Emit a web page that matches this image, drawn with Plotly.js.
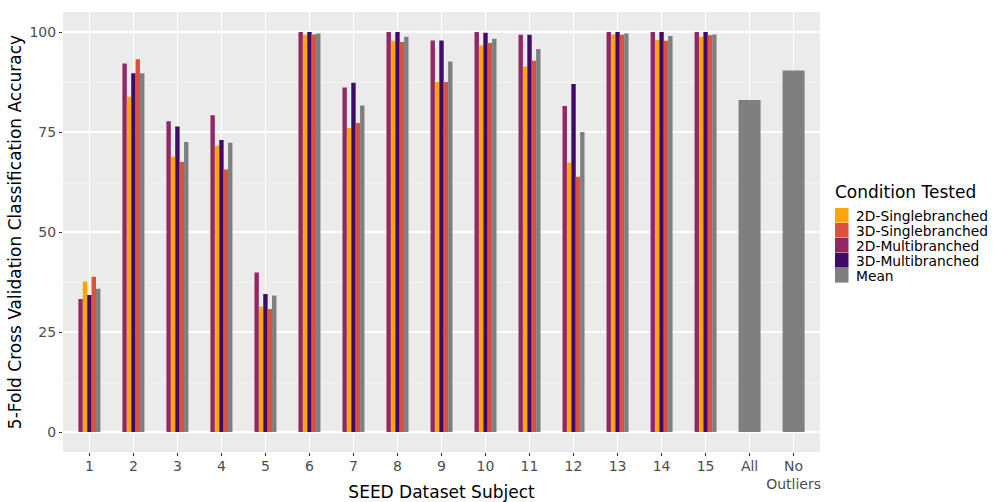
<!DOCTYPE html>
<html>
<head>
<meta charset="utf-8">
<script src="https://cdn.plot.ly/plotly-3.0.1.min.js"></script>
<style>html,body{margin:0;padding:0;background:#fff;}#chart{width:995px;height:502px;}</style>
</head>
<body>
<div id="chart"></div>
<script>
const subjects = ["1","2","3","4","5","6","7","8","9","10","11","12","13","14","15"];
const allCats = subjects.concat(["All","No<br>Outliers"]);
const multi2D  = [33.25, 92.15, 77.7, 79.2, 39.9, 100, 86.15, 100, 97.9, 100, 99.3, 81.5, 100, 100, 100];
const single2D = [37.65, 83.8, 68.8, 71.6, 31.3, 99.3, 76.0, 97.8, 87.5, 96.6, 91.4, 67.3, 99.4, 98.0, 98.8];
const multi3D  = [34.25, 89.7, 76.4, 73.0, 34.5, 100, 87.3, 100, 97.9, 99.8, 99.3, 87.0, 100, 100, 100];
const single3D = [38.8, 93.2, 67.5, 65.65, 30.75, 99.4, 77.25, 97.5, 87.5, 97.25, 92.8, 63.8, 99.3, 97.8, 99.2];
const meanVals = [35.8, 89.7, 72.5, 72.3, 34.1, 99.6, 81.6, 98.8, 92.65, 98.3, 95.75, 75.0, 99.6, 99.0, 99.4, 83.0, 90.4];
const legendNames = ["2D-Singlebranched","3D-Singlebranched","2D-Multibranched","3D-Multibranched","Mean"];

const colors = {s2:"#FCA50A", s3:"#DD513A", m2:"#932667", m3:"#420A68", mean:"#7F7F7F"};
const legendColors = [colors.s2, colors.s3, colors.m2, colors.m3, colors.mean];
const bw = 0.1;
function tr(name, x, y, color, slot){
  return {type:"bar", name:name, x:x, y:y, width:bw, offset:-0.25+slot*bw,
    marker:{color:color, line:{width:0}}};
}
const meanW = allCats.map((c,i)=> i<15 ? bw : 0.5);
const meanO = allCats.map((c,i)=> i<15 ? -0.25+4*bw : -0.25);
const data = [
  tr("2D-Multibranched", subjects, multi2D, colors.m2, 0),
  tr("2D-Singlebranched", subjects, single2D, colors.s2, 1),
  tr("3D-Multibranched", subjects, multi3D, colors.m3, 2),
  tr("3D-Singlebranched", subjects, single3D, colors.s3, 3),
  {type:"bar", name:"Mean", x:allCats, y:meanVals, width:meanW, offset:meanO,
    marker:{color:colors.mean, line:{width:0}}}
];

// custom legend placed in paper coordinates (plot area: x 63..820, y 12..452)
const L=63, R=820, T=12, B=452;
const px = v => (v-L)/(R-L);
const py = v => (B-v)/(B-T);
const shapes = [], annotations = [];
annotations.push({xref:"paper", yref:"paper", x:px(833), y:py(192), xanchor:"left", yanchor:"middle",
  text:"Condition Tested", showarrow:false, font:{size:17, color:"#000"}});
legendNames.forEach((n,i)=>{
  const top = 208 + i*15;
  shapes.push({type:"rect", xref:"paper", yref:"paper", x0:px(835), x1:px(848.5), y0:py(top+14.6), y1:py(top),
    fillcolor:legendColors[i], line:{width:0}});
  annotations.push({xref:"paper", yref:"paper", x:px(855), y:py(top+7.5), xanchor:"left", yanchor:"middle",
    text:n, showarrow:false, font:{size:13.8, color:"#000"}, borderpad:0});
});

const layout = {
  width:995, height:502,
  margin:{l:63, r:175, t:12, b:50},
  paper_bgcolor:"#ffffff", plot_bgcolor:"#EBEBEB",
  font:{family:"DejaVu Sans", color:"#000"},
  barmode:"overlay",
  showlegend:false,
  shapes:shapes, annotations:annotations,
  xaxis:{type:"category", categoryorder:"array", categoryarray:allCats,
    range:[-0.6, 16.6], showgrid:true, gridcolor:"#ffffff", gridwidth:1.1,
    ticks:"outside", ticklen:3, tickcolor:"#333333", tickwidth:1, ticklabelstandoff:-2,
    tickfont:{size:14, color:"#4D4D4D"}, zeroline:false, showline:false,
    title:{text:"SEED Dataset Subject", font:{size:17, color:"#000"}, standoff:16}},
  yaxis:{range:[-5,105], tickvals:[0,25,50,75,100], ticktext:["0","25","50","75","100"],
    showgrid:true, gridcolor:"#ffffff", gridwidth:1.1,
    minor:{tickvals:[12.5,37.5,62.5,87.5], showgrid:true, gridcolor:"#F7F7F7", gridwidth:0.6},
    ticks:"outside", ticklen:3, tickcolor:"#333333", tickwidth:1,
    tickfont:{size:14, color:"#4D4D4D"}, zeroline:false, showline:false,
    title:{text:"5-Fold Cross Validation Classification Accuracy", font:{size:17, color:"#000"}, standoff:3}}
};
Plotly.newPlot("chart", data, layout, {displayModeBar:false, staticPlot:true});
</script>
</body>
</html>
